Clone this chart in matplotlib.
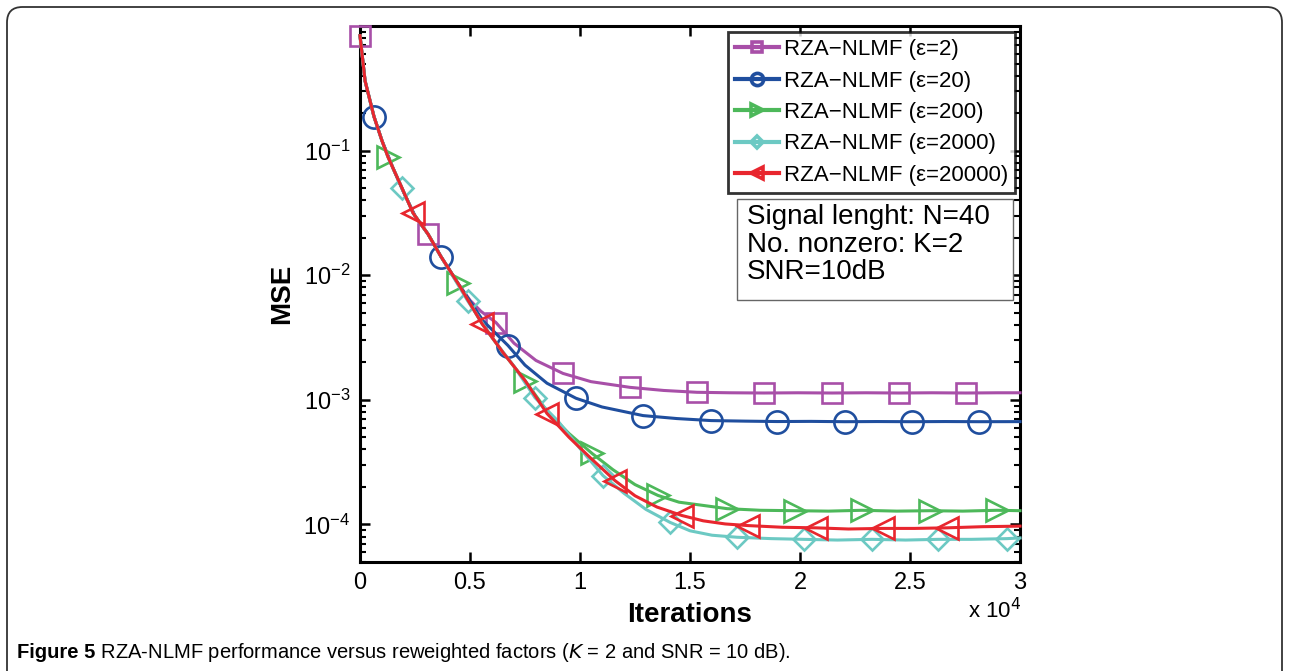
import matplotlib
matplotlib.use("Agg")
import matplotlib.pyplot as plt
import numpy as np
from matplotlib.lines import Line2D
from matplotlib.patches import FancyBboxPatch, Rectangle

# iterations / MSE
x_sq = [0, 230, 636, 1000, 1500, 2000, 2500, 3091, 3682, 4455, 5000, 5500, 6182, 7000, 8000,
        9227, 10500, 12273, 13800, 15318, 16800, 18364, 19900, 21455, 23000, 24500, 26000,
        27545, 29000, 30000]
y_sq = [0.836, 0.363, 0.1875, 0.120, 0.0724, 0.0457, 0.0299, 0.0214, 0.0141, 0.0086, 0.0063,
        0.00513, 0.00417, 0.00285, 0.00207, 0.00163, 0.0014, 0.00126, 0.00119, 0.00115,
        0.00114, 0.001135, 0.00114, 0.001135, 0.00114, 0.001135, 0.00114, 0.001135, 0.00114,
        0.00114]
mk_sq = [0, 3091, 6182, 9227, 12273, 15318, 18364, 21455, 24500, 27545]

x_ci = [0, 230, 636, 1000, 1500, 2000, 2500, 3091, 3682, 4455, 5000, 5600, 6727, 7500, 8500,
        9818, 11000, 12864, 14400, 15955, 17500, 18955, 20500, 22045, 23500, 25091, 26600,
        28136, 30000]
y_ci = [0.836, 0.363, 0.1875, 0.120, 0.0724, 0.0457, 0.0299, 0.0214, 0.0141, 0.0086, 0.0062,
        0.0043, 0.00273, 0.0019, 0.00136, 0.00103, 0.000877, 0.000748, 0.000708, 0.000682,
        0.000675, 0.00067, 0.000672, 0.000668, 0.00067, 0.000668, 0.00067, 0.000668, 0.000669]
mk_ci = [636, 3682, 6727, 9818, 12864, 15955, 18955, 22045, 25091, 28136]

x_gr = [0, 230, 636, 1000, 1270, 1909, 2409, 3091, 3682, 4455, 5545, 6500, 7500, 8500, 9500,
        10545, 11500, 12500, 13545, 14500, 15500, 16682, 18200, 19773, 21300, 22818, 24400,
        25909, 27400, 28955, 30000]
y_gr = [0.836, 0.363, 0.1875, 0.120, 0.0891, 0.0501, 0.0316, 0.0214, 0.0141, 0.0086, 0.00409,
        0.0024, 0.00143, 0.000813, 0.000537, 0.000372, 0.000275, 0.000209, 0.000171,
        0.000151, 0.000143, 0.000134, 0.00013, 0.000129, 0.000128, 0.00013, 0.000128,
        0.000129, 0.000128, 0.00013, 0.000129]
mk_gr = [1270, 4455, 7500, 10545, 13545, 16682, 19773, 22818, 25909, 28955]

x_cy = [0, 230, 636, 1000, 1270, 1909, 2409, 3091, 3682, 4909, 6000, 7000, 7955, 9000, 10000,
        11045, 12000, 13000, 14091, 15000, 16000, 17136, 18700, 20182, 21700, 23273, 24800,
        26273, 27800, 29409, 30000]
y_cy = [0.836, 0.363, 0.1875, 0.120, 0.0891, 0.0501, 0.0316, 0.0214, 0.0141, 0.00617, 0.00316,
        0.00186, 0.00104, 0.000676, 0.000407, 0.000247, 0.000178, 0.000132, 0.000104,
        8.9e-05, 8.2e-05, 7.9e-05, 7.7e-05, 7.6e-05, 7.5e-05, 7.6e-05, 7.5e-05, 7.6e-05,
        7.6e-05, 7.7e-05, 7.8e-05]
mk_cy = [1909, 4909, 7955, 11045, 14091, 17136, 20182, 23273, 26273, 29409]

x_rd = [0, 230, 636, 1000, 1270, 1909, 2409, 3091, 3682, 4455, 5545, 6500, 7500, 8500, 9500,
        10500, 11590, 12500, 13500, 14636, 15600, 16600, 17636, 19200, 20727, 22200, 23773,
        25200, 26682, 28300, 30000]
y_rd = [0.836, 0.363, 0.1875, 0.120, 0.0891, 0.0501, 0.0316, 0.0214, 0.0141, 0.0086, 0.00409,
        0.0024, 0.00143, 0.000777, 0.000501, 0.000339, 0.000225, 0.00017, 0.000138, 0.000118,
        0.000107, 0.000101, 9.8e-05, 9.5e-05, 9.4e-05, 9.2e-05, 9.3e-05, 9.3e-05, 9.4e-05,
        9.6e-05, 9.7e-05]
mk_rd = [2409, 5545, 8500, 11590, 14636, 17636, 20727, 23773, 26682]

labels = ['RZA\u2212NLMF (\u03b5=2)', 'RZA\u2212NLMF (\u03b5=20)', 'RZA\u2212NLMF (\u03b5=200)',
          'RZA\u2212NLMF (\u03b5=2000)', 'RZA\u2212NLMF (\u03b5=20000)']
colors = ['#A84FA8', '#1F4E9E', '#4DB85A', '#6CC9C3', '#E8262E']
markers = ['s', 'o', '>', 'D', '<']
msizes = [14, 16, 15.5, 11.5, 15.5]

series = [(x_sq, y_sq, mk_sq), (x_ci, y_ci, mk_ci), (x_gr, y_gr, mk_gr),
          (x_cy, y_cy, mk_cy), (x_rd, y_rd, mk_rd)]

plt.rcParams['font.family'] = ['Liberation Sans', 'DejaVu Sans']

fig = plt.figure(figsize=(12.89, 6.71), dpi=100)
# outer rounded frame of the journal figure
frame = FancyBboxPatch((7 / 1289, -0.1), 1 - 14 / 1289, 1.1 - 7 / 671,
                       boxstyle='round,pad=0,rounding_size=0.012',
                       transform=fig.transFigure, fill=False, ec='#333333', lw=1.3,
                       mutation_aspect=1289 / 671)
fig.patches.append(frame)

ax = fig.add_axes([360 / 1289, 1 - 562 / 671, 660 / 1289, 536 / 671])

handles = []
for (xs, ys, mk), c, m, ms, lab in zip(series, colors, markers, msizes, labels):
    idx = list(np.nonzero(np.isin(xs, mk))[0])
    ax.plot(xs, ys, color=c, lw=2.2, marker=m, markevery=idx, ms=ms,
            mfc='none', mec=c, mew=1.9, zorder=3, clip_on=False)
    handles.append(Line2D([], [], color=c, lw=3.0, marker=m, ms=ms * 0.55,
                          mfc='none', mec=c, mew=2.6))

ax.set_yscale('log')
ax.set_xlim(0, 30000)
ax.set_ylim(5e-5, 1)
ax.set_xticks([0, 5000, 10000, 15000, 20000, 25000, 30000])
ax.set_xticklabels(['0', '0.5', '1', '1.5', '2', '2.5', '3'])
ax.set_yticks([1e-4, 1e-3, 1e-2, 1e-1])
ax.tick_params(axis='both', which='both', direction='in', top=True, right=True,
               labelsize=17, width=1.8, pad=7)
ax.tick_params(which='major', length=7)
ax.tick_params(which='minor', length=4, width=1.5)
for s in ax.spines.values():
    s.set_linewidth(2.2)

ax.set_xlabel('Iterations', fontsize=20, fontweight='bold', labelpad=6)
ax.set_ylabel('MSE', fontsize=20, fontweight='bold', labelpad=6)
fig.text(968 / 1289, 1 - 618 / 671, r'x 10$^{4}$', fontsize=16)

leg = ax.legend(handles, labels, loc='upper right', bbox_to_anchor=(0.992, 0.988),
                fontsize=16, handlelength=2.0, handletextpad=0.2, labelspacing=0.47,
                borderpad=0.3, borderaxespad=0, frameon=True, fancybox=False)
leg.get_frame().set_edgecolor('black')
leg.get_frame().set_linewidth(2.0)

# annotation box with fixed size, as in the original
ax.add_patch(Rectangle((0.571, 0.489), 0.418, 0.188, transform=ax.transAxes,
                       fc='white', ec='#666666', lw=1.0, zorder=4))
ax.text(0.586, 0.668, 'Signal lenght: N=40\nNo. nonzero: K=2\nSNR=10dB', transform=ax.transAxes,
        fontsize=20, va='top', ha='left', linespacing=1.08, zorder=5)

cap = ['Liberation Sans', 'DejaVu Sans']
t1 = fig.text(17 / 1289, 1 - 652 / 671, 'Figure 5', fontsize=14.5, fontweight='bold',
              family=cap, va='center')
ann = plt.annotate(' RZA-NLMF performance versus reweighted factors ($\\it{K}$ = 2 and SNR = 10 dB).',
                   xy=(1, 0.5), xycoords=t1, va='center', ha='left',
                   fontsize=14.5, family=cap)

fig.savefig('out.png', dpi=100)
